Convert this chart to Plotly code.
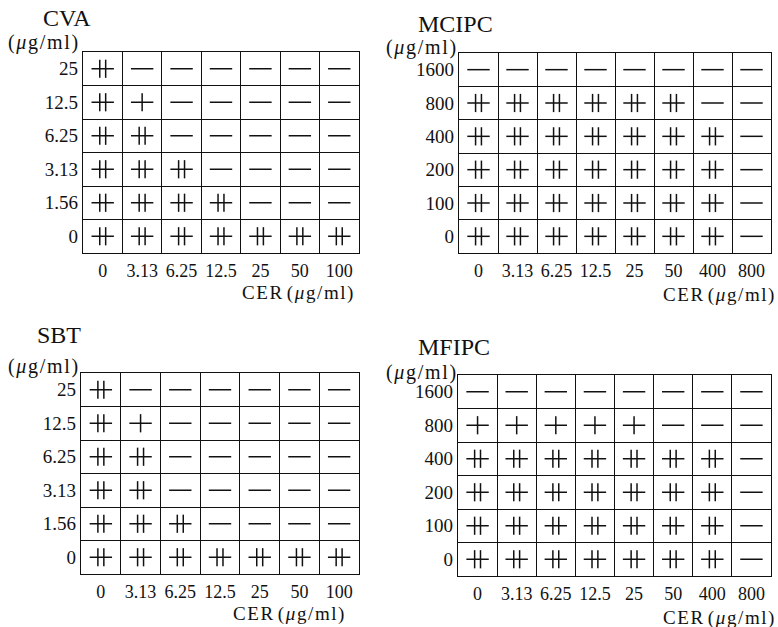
import plotly.graph_objects as go

W, H = 778, 627

# ---------------- data ----------------
cer_a = ["0", "3.13", "6.25", "12.5", "25", "50", "100"]
cer_b = ["0", "3.13", "6.25", "12.5", "25", "50", "400", "800"]

cva_conc = ["0", "1.56", "3.13", "6.25", "12.5", "25"]          # bottom -> top
sbt_conc = ["0", "1.56", "3.13", "6.25", "12.5", "25"]
mcipc_conc = ["0", "100", "200", "400", "800", "1600"]
mfipc_conc = ["0", "100", "200", "400", "800", "1600"]

# rows listed bottom -> top, matching the concentration lists
cva_grid = [
    ["++", "++", "++", "++", "++", "++", "++"],
    ["++", "++", "++", "++", "-", "-", "-"],
    ["++", "++", "++", "-", "-", "-", "-"],
    ["++", "++", "-", "-", "-", "-", "-"],
    ["++", "+", "-", "-", "-", "-", "-"],
    ["++", "-", "-", "-", "-", "-", "-"],
]
sbt_grid = [
    ["++", "++", "++", "++", "++", "++", "++"],
    ["++", "++", "++", "-", "-", "-", "-"],
    ["++", "++", "-", "-", "-", "-", "-"],
    ["++", "++", "-", "-", "-", "-", "-"],
    ["++", "+", "-", "-", "-", "-", "-"],
    ["++", "-", "-", "-", "-", "-", "-"],
]
mcipc_grid = [
    ["++", "++", "++", "++", "++", "++", "++", "-"],
    ["++", "++", "++", "++", "++", "++", "++", "-"],
    ["++", "++", "++", "++", "++", "++", "++", "-"],
    ["++", "++", "++", "++", "++", "++", "++", "-"],
    ["++", "++", "++", "++", "++", "++", "-", "-"],
    ["-", "-", "-", "-", "-", "-", "-", "-"],
]
mfipc_grid = [
    ["++", "++", "++", "++", "++", "++", "++", "-"],
    ["++", "++", "++", "++", "++", "++", "++", "-"],
    ["++", "++", "++", "++", "++", "++", "++", "-"],
    ["++", "++", "++", "++", "++", "++", "++", "-"],
    ["+", "+", "+", "+", "+", "-", "-", "-"],
    ["-", "-", "-", "-", "-", "-", "-", "-"],
]

panels = [
    dict(name="CVA", xlab=cer_a, ylab=cva_conc, grid=cva_grid),
    dict(name="MCIPC", xlab=cer_b, ylab=mcipc_conc, grid=mcipc_grid),
    dict(name="SBT", xlab=cer_a, ylab=sbt_conc, grid=sbt_grid),
    dict(name="MFIPC", xlab=cer_b, ylab=mfipc_conc, grid=mfipc_grid),
]

# ---------------- layout geometry (pixels) ----------------
boxes = [  # left, right, top, bottom
    (83, 359, 52, 253),
    (459, 771, 53, 253),
    (81, 359, 373, 574),
    (458, 771, 375, 576),
]
title_pos = [(41, 18), (416, 24), (35, 335), (416, 347)]
unit_pos = [(6, 43), (384, 48), (6, 366), (384, 372)]
cer_pos = [(355, 293), (776, 295), (346, 614), (776, 618)]

SERIF = "Liberation Serif"
INK = "#111111"
GRIDW = 1.4
DX = 0.075  # half gap between the two vertical strokes of "++", in cell units
HS = "\u200a"  # hair space used to mimic the slightly wide letter spacing

UNIT = HS.join(["(", "<i>μ</i>", "g", "/", "m", "l", ")"])
CER = HS.join("CER") + "\u00a0" + UNIT

fig = go.Figure()
layout_axes = {}
annotations = []

for k, (p, box) in enumerate(zip(panels, boxes)):
    ax = "" if k == 0 else str(k + 1)
    xref, yref = "x" + ax, "y" + ax
    nx, ny = len(p["xlab"]), len(p["ylab"])

    hx, hy, vx, vy = [], [], [], []
    for j, row in enumerate(p["grid"]):
        for i, s in enumerate(row):
            hx.append(i); hy.append(j)
            if s == "+":
                vx.append(i); vy.append(j)
            elif s == "++":
                vx += [i - DX, i + DX]; vy += [j, j]

    fig.add_trace(go.Scatter(
        x=hx, y=hy, mode="markers", xaxis=xref, yaxis=yref, showlegend=False,
        hoverinfo="skip",
        marker=dict(symbol="line-ew-open", size=16, color=INK,
                    line=dict(color=INK, width=1.5)),
    ))
    fig.add_trace(go.Scatter(
        x=vx, y=vy, mode="markers", xaxis=xref, yaxis=yref, showlegend=False,
        hoverinfo="skip",
        marker=dict(symbol="line-ns-open", size=13, color=INK,
                    line=dict(color=INK, width=1.5)),
    ))

    l, r, t, b = box
    common = dict(
        showline=True, mirror=True, linecolor=INK, linewidth=GRIDW,
        showgrid=False, zeroline=False, ticks="", fixedrange=True,
    )
    layout_axes["xaxis" + ax] = dict(
        common, domain=[l / W, r / W], anchor=yref,
        range=[-0.5, nx - 0.5], tickmode="array",
        tickvals=list(range(nx)), ticktext=p["xlab"], ticklabelstandoff=1,
        tickfont=dict(family=SERIF, size=18, color=INK),
        minor=dict(tickmode="array", tickvals=[i + 0.5 for i in range(nx - 1)],
                   showgrid=True, gridcolor=INK, gridwidth=GRIDW, ticks=""),
    )
    layout_axes["yaxis" + ax] = dict(
        common, domain=[1 - b / H, 1 - t / H], anchor=xref,
        range=[-0.5, ny - 0.5], tickmode="array",
        tickvals=list(range(ny)), ticktext=p["ylab"], ticklabelstandoff=0,
        tickfont=dict(family=SERIF, size=19, color=INK),
        minor=dict(tickmode="array", tickvals=[j + 0.5 for j in range(ny - 1)],
                   showgrid=True, gridcolor=INK, gridwidth=GRIDW, ticks=""),
    )

    tx, ty = title_pos[k]
    annotations.append(dict(
        text=p["name"], x=tx / W, y=1 - ty / H, xref="paper", yref="paper",
        xanchor="left", yanchor="middle", showarrow=False,
        font=dict(family=SERIF, size=24, color=INK),
    ))
    ux, uy = unit_pos[k]
    annotations.append(dict(
        text=UNIT, x=ux / W, y=1 - uy / H, xref="paper", yref="paper",
        xanchor="left", yanchor="middle", showarrow=False,
        font=dict(family=SERIF, size=20, color=INK),
    ))
    cx, cy = cer_pos[k]
    annotations.append(dict(
        text=CER, x=cx / W, y=1 - cy / H, xref="paper", yref="paper",
        xanchor="right", yanchor="middle", showarrow=False,
        font=dict(family=SERIF, size=19, color=INK),
    ))

fig.update_layout(
    width=W, height=H, margin=dict(l=0, r=0, t=0, b=0),
    paper_bgcolor="white", plot_bgcolor="white",
    annotations=annotations, **layout_axes,
)

fig.write_html("out.html")
